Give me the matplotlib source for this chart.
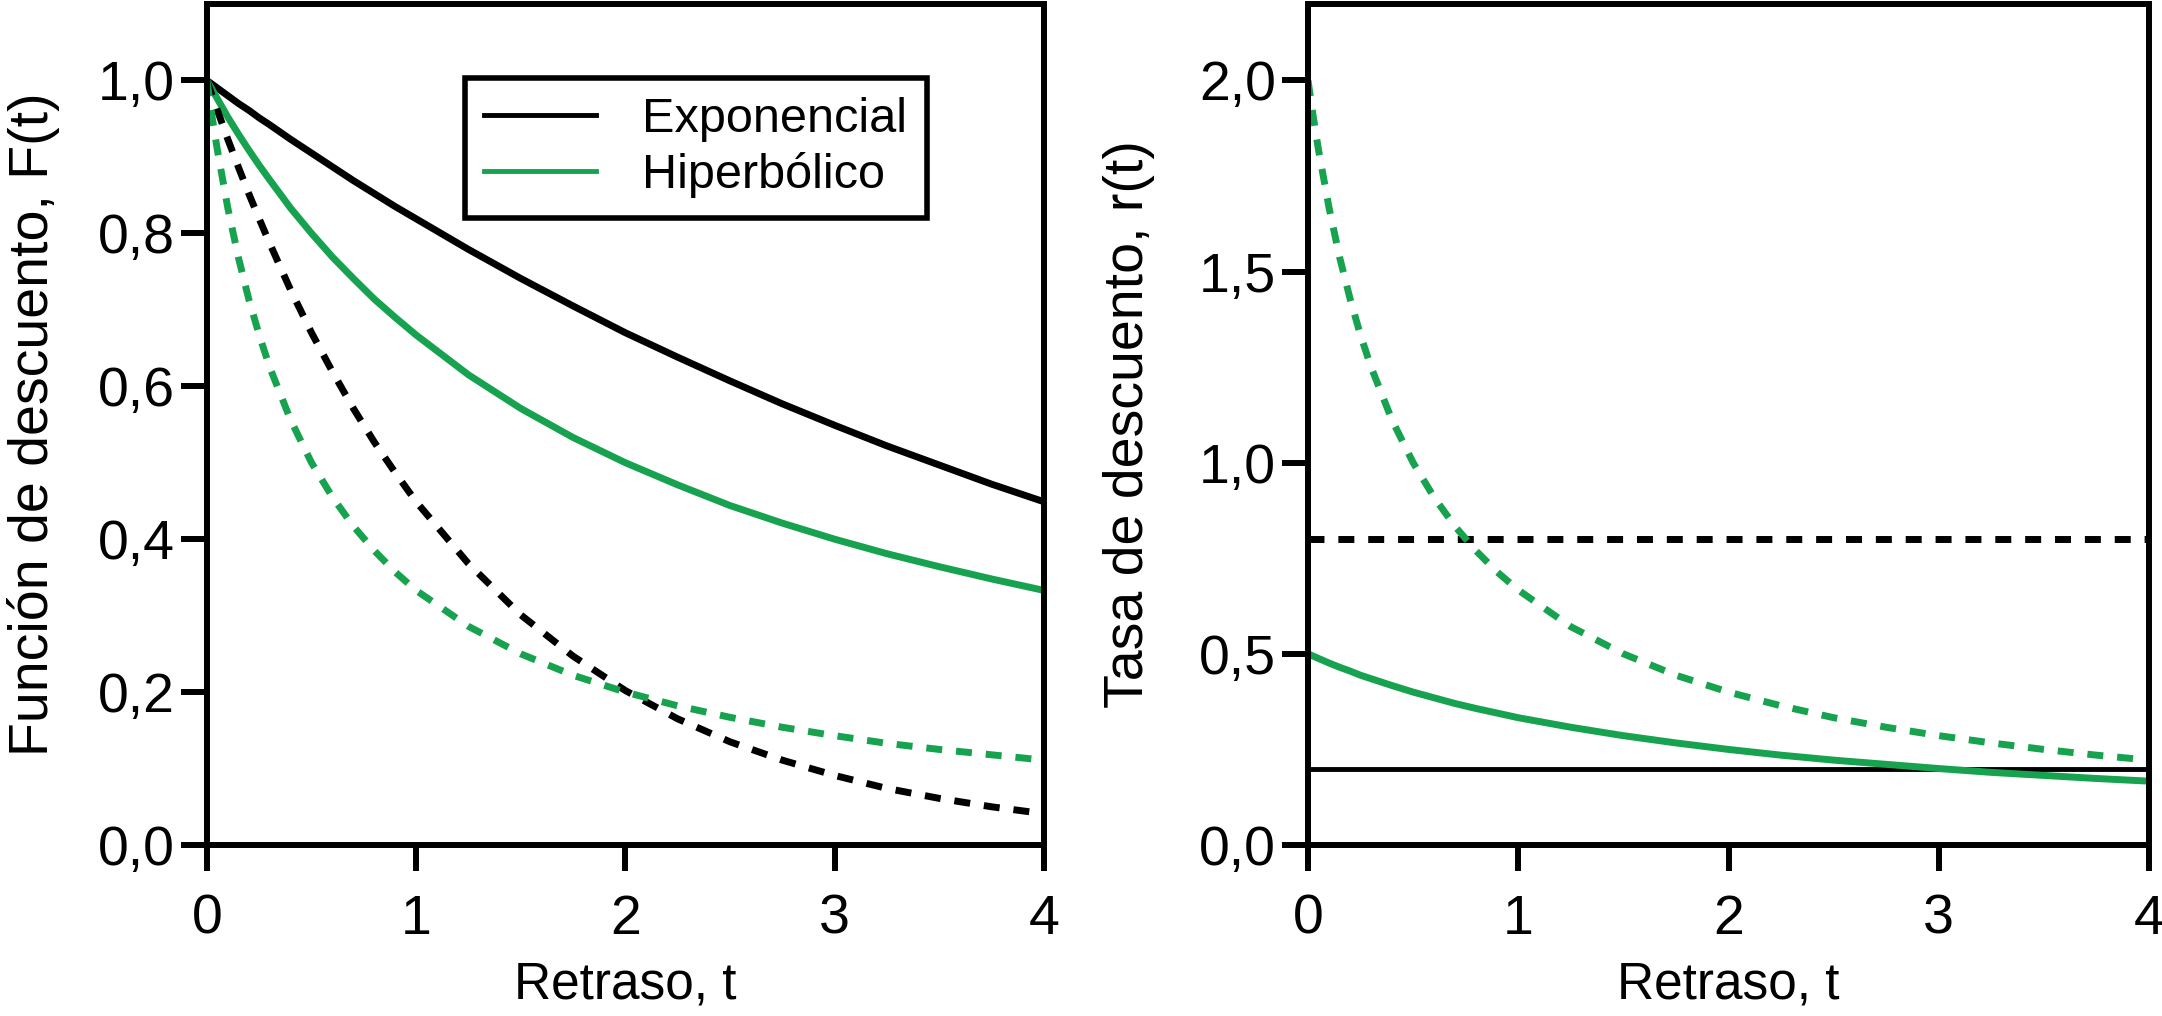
import matplotlib
matplotlib.use("Agg")
import matplotlib.pyplot as plt
from matplotlib.ticker import FuncFormatter

plt.rcParams['font.family'] = ['Liberation Sans', 'DejaVu Sans']

# retraso t
t = [0, 0.025, 0.05, 0.1, 0.15, 0.2, 0.25, 0.3, 0.4, 0.5, 0.6, 0.7, 0.8, 0.9, 1.0,
     1.25, 1.5, 1.75, 2.0, 2.25, 2.5, 2.75, 3.0, 3.25, 3.5, 3.75, 4.0]

# función de descuento F(t)
exp_lento = [1.000, 0.995, 0.990, 0.980, 0.970, 0.961, 0.951, 0.942, 0.923, 0.905, 0.887, 0.869, 0.852, 0.835, 0.819,
             0.779, 0.741, 0.705, 0.670, 0.638, 0.607, 0.577, 0.549, 0.522, 0.497, 0.472, 0.449]
exp_rapido = [1.000, 0.980, 0.961, 0.923, 0.887, 0.852, 0.819, 0.787, 0.726, 0.670, 0.619, 0.571, 0.527, 0.487, 0.449,
              0.368, 0.301, 0.247, 0.202, 0.165, 0.135, 0.111, 0.091, 0.074, 0.061, 0.050, 0.041]
hip_lento = [1.000, 0.988, 0.976, 0.952, 0.930, 0.909, 0.889, 0.870, 0.833, 0.800, 0.769, 0.741, 0.714, 0.690, 0.667,
             0.615, 0.571, 0.533, 0.500, 0.471, 0.444, 0.421, 0.400, 0.381, 0.364, 0.348, 0.333]
hip_rapido = [1.000, 0.952, 0.909, 0.833, 0.769, 0.714, 0.667, 0.625, 0.556, 0.500, 0.455, 0.417, 0.385, 0.357, 0.333,
              0.286, 0.250, 0.222, 0.200, 0.182, 0.167, 0.154, 0.143, 0.133, 0.125, 0.118, 0.111]

# tasa de descuento r(t)
t_const = [0, 4]
tasa_exp_lento = [0.2, 0.2]
tasa_exp_rapido = [0.8, 0.8]
tasa_hip_lento = [0.500, 0.494, 0.488, 0.476, 0.465, 0.455, 0.444, 0.435, 0.417, 0.400, 0.385, 0.370, 0.357, 0.345, 0.333,
                  0.308, 0.286, 0.267, 0.250, 0.235, 0.222, 0.211, 0.200, 0.190, 0.182, 0.174, 0.167]
tasa_hip_rapido = [2.000, 1.905, 1.818, 1.667, 1.538, 1.429, 1.333, 1.250, 1.111, 1.000, 0.909, 0.833, 0.769, 0.714, 0.667,
                   0.571, 0.500, 0.444, 0.400, 0.364, 0.333, 0.308, 0.286, 0.267, 0.250, 0.235, 0.222]

verde = '#17a24f'
lw = 5.0
guiones = (2.3, 2.0)

fig = plt.figure(figsize=(21.62, 10.16), dpi=100)
ax1 = fig.add_axes([0.0957, 0.1683, 0.3871, 0.8278])
ax2 = fig.add_axes([0.605, 0.1683, 0.389, 0.8278])

coma = FuncFormatter(lambda v, p: f'{v:.1f}'.replace('.', ','))

# panel izquierdo
l1, = ax1.plot(t, exp_lento, color='black', lw=lw, label='Exponencial')
l2, = ax1.plot(t, hip_lento, color=verde, lw=lw, label='Hiperbólico')
ax1.plot(t, exp_rapido, color='black', lw=lw, dashes=guiones)
ax1.plot(t, hip_rapido, color=verde, lw=lw, dashes=guiones)
ax1.set_ylim(0, 1.1)
ax1.set_yticks([0, 0.2, 0.4, 0.6, 0.8, 1.0])
ax1.set_ylabel('Función de descuento, F(t)', fontsize=40)
ax1.yaxis.set_label_coords(-0.176, 0.5)

leg = ax1.legend(handles=[l1, l2], loc='upper left', bbox_to_anchor=(0.308, 0.912),
                 fontsize=35, frameon=True, fancybox=False, edgecolor='black', framealpha=1,
                 handlelength=2.3, handletextpad=0.95, borderpad=0.4, labelspacing=0.2,
                 borderaxespad=0)
leg.get_frame().set_linewidth(4.0)
for h in leg.legend_handles:
    h.set_linewidth(3.5)

# panel derecho
ax2.plot(t_const, tasa_exp_lento, color='black', lw=3.5)
ax2.plot(t_const, tasa_exp_rapido, color='black', lw=lw, dashes=guiones)
ax2.plot(t, tasa_hip_lento, color=verde, lw=lw)
ax2.plot(t, tasa_hip_rapido, color=verde, lw=lw, dashes=guiones)
ax2.set_ylim(0, 2.2)
ax2.set_yticks([0, 0.5, 1.0, 1.5, 2.0])
ax2.set_ylabel('Tasa de descuento, r(t)', fontsize=40)
ax2.yaxis.set_label_coords(-0.182, 0.5)

for ax in (ax1, ax2):
    ax.set_xlim(0, 4)
    ax.set_xticks([0, 1, 2, 3, 4])
    ax.yaxis.set_major_formatter(coma)
    ax.set_xlabel('Retraso, t', fontsize=37, labelpad=11)
    ax.tick_params(direction='out', length=19, width=4.3, labelsize=40)
    ax.tick_params(axis='x', pad=16)
    ax.tick_params(axis='y', pad=4)
    for s in ax.spines.values():
        s.set_linewidth(4.3)

fig.savefig('out.png', dpi=100)
